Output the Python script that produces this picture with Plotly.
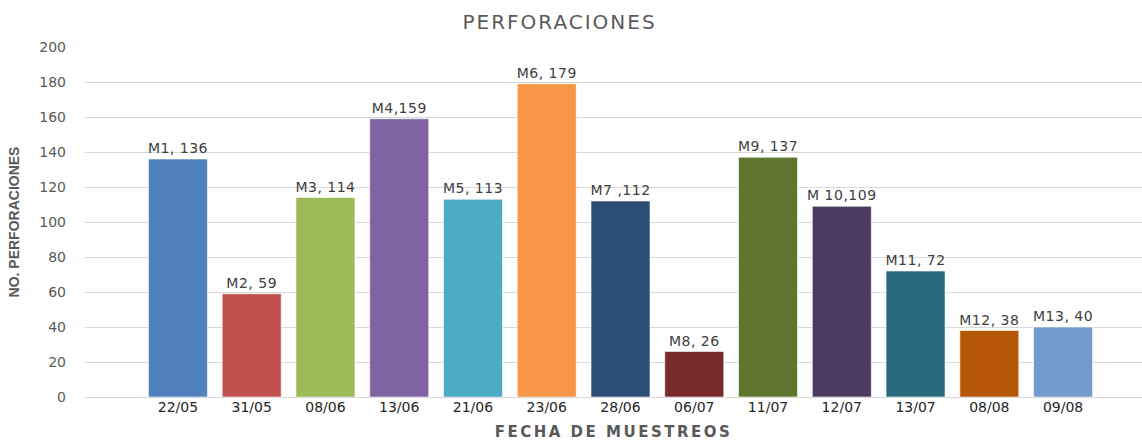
import plotly.graph_objects as go

# Sampling dates, sample labels and perforation counts
fechas = ["22/05", "31/05", "08/06", "13/06", "21/06", "23/06", "28/06",
          "06/07", "11/07", "12/07", "13/07", "08/08", "09/08"]
muestras = ["M1, ", "M2, ", "M3, ", "M4,", "M5, ", "M6, ", "M7 ,",
            "M8, ", "M9, ", "M 10,", "M11, ", "M12, ", "M13, "]
perforaciones = [136, 59, 114, 159, 113, 179, 112, 26, 137, 109, 72, 38, 40]
colores = ["#4F81BD", "#C0504D", "#9BBB59", "#8064A2", "#4BACC6", "#F79646",
           "#2C4D75", "#772C2A", "#5F7530", "#4D3B62", "#276A7C", "#B65708",
           "#729ACA"]


def espaciado(texto, px):
    """Wrap text in a span with extra letter spacing."""
    return f'<span style="letter-spacing:{px}px">{texto}</span>'


etiquetas = [espaciado(f"{m}{v}", 0.5) for m, v in zip(muestras, perforaciones)]

fuente = "DejaVu Sans, sans-serif"

fig = go.Figure(go.Bar(
    x=fechas,
    y=perforaciones,
    marker=dict(color=colores, line=dict(color="rgba(255,255,255,0.6)", width=1)),
    text=etiquetas,
    textposition="outside",
    constraintext="none",
    textfont=dict(family=fuente, size=14, color="#404040"),
    cliponaxis=False,
    hoverinfo="x+y",
))

fig.update_layout(
    width=1142, height=443,
    margin=dict(l=85, r=0, t=47, b=46),
    paper_bgcolor="white", plot_bgcolor="white",
    bargap=0.2,
    showlegend=False,
    uniformtext=dict(mode=False),
    title=dict(text=espaciado("PERFORACIONES", 2), x=0.49, xanchor="center",
               y=0.95, yanchor="middle",
               font=dict(family=fuente, size=20, color="#595959")),
    xaxis=dict(
        type="category",
        range=[-1.26, 13.07],
        showgrid=False, zeroline=False, showline=False, ticks="",
        tickfont=dict(family=fuente, size=14, color="#262626"),
        title=dict(text=espaciado("<b>FECHA DE MUESTREOS</b>", 2.5), standoff=12,
                   font=dict(family=fuente, size=15, color="#595959")),
    ),
    yaxis=dict(
        range=[0, 200], dtick=20,
        showgrid=True, gridcolor="#D9D9D9", gridwidth=1,
        zeroline=True, zerolinecolor="#D9D9D9", zerolinewidth=1,
        showline=False, ticks="", ticklabelstandoff=18,
        tickfont=dict(family=fuente, size=14, color="#595959"),
        title=dict(text="<b>NO. PERFORACIONES</b>", standoff=16,
                   font=dict(family="Liberation Sans Narrow, Arial Narrow, sans-serif",
                             size=14, color="#595959")),
    ),
)

fig.write_html("out.html")
